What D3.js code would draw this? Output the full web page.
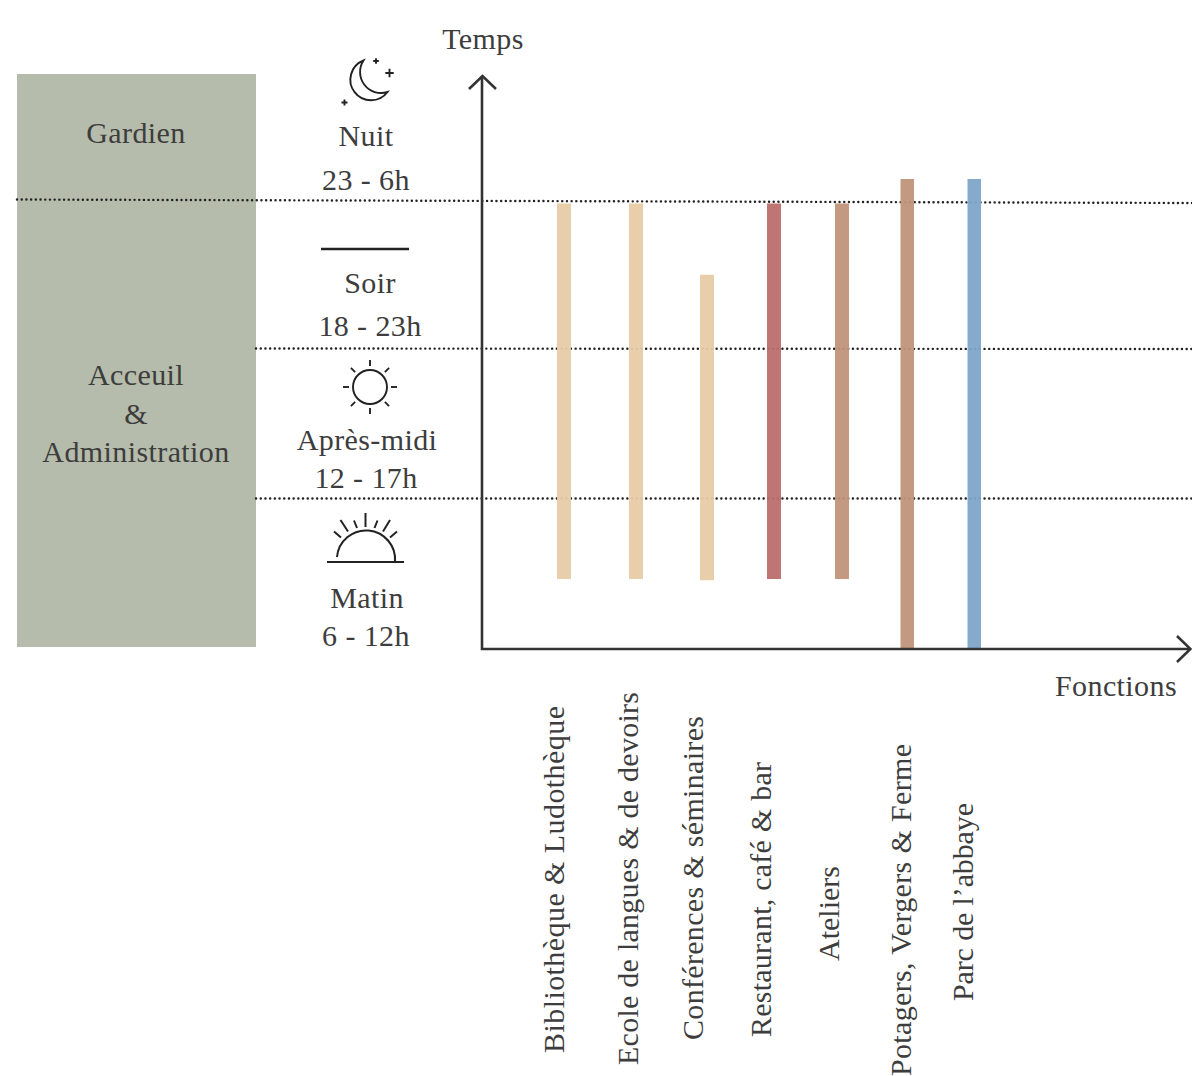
<!DOCTYPE html>
<html>
<head>
<meta charset="utf-8">
<script src="https://cdn.jsdelivr.net/npm/d3@7"></script>
<style>
  html, body { margin: 0; padding: 0; background: #fff; }
  text { font-family: "Liberation Serif", serif; fill: #3d3d3d; font-size: 30px; letter-spacing: 0.4px; }
  text.fn { letter-spacing: 0; }
</style>
</head>
<body>
<div id="chart-area"></div>
<script>
const functions = [
  "Bibliothèque & Ludothèque",
  "Ecole de langues & de devoirs",
  "Conférences & séminaires",
  "Restaurant, café & bar",
  "Ateliers",
  "Potagers, Vergers & Ferme",
  "Parc de l’abbaye"
];
// opening hours
const opens = [8.8, 8.8, 8.75, 8.8, 8.8, 6, 6];
const closes = [23, 23, 20.55, 23, 23, 24, 24];
const groups = ["beige", "beige", "beige", "red", "terracotta", "terracotta", "blue"];

const periods = ["Nuit", "23 - 6h", "Soir", "18 - 23h", "Après-midi", "12 - 17h", "Matin", "6 - 12h"];
const staff = ["Gardien", "Acceuil", "&", "Administration"];

const WIDTH = 1192;
const HEIGHT = 1076;
const INK = "#333";

const svg = d3.select("#chart-area").append("svg")
  .attr("width", WIDTH)
  .attr("height", HEIGHT)
  .style("display", "block");

// hand drawn time axis, so the hours are not evenly spaced
const y = d3.scaleLinear().domain([6, 12, 18, 23, 24]).range([649, 499, 349, 203.5, 179]);
const x = d3.scaleOrdinal().domain(functions).range([564, 636, 707, 774, 842, 907.5, 974.5]);
const colour = d3.scaleOrdinal()
  .domain(["beige", "red", "terracotta", "blue"])
  .range(["#e8cba6", "#bb6e6d", "#c1937a", "#80a5c8"]);

svg.append("rect")
  .attr("x", 17).attr("y", 74)
  .attr("width", 239).attr("height", 573)
  .attr("fill", "#b5bcab");

// dotted dividers
const dividers = [
  { x1: 17, y1: y(23) - 4, x2: WIDTH, y2: y(23) - 0.5 },
  { x1: 256, y1: y(18) - 0.5, x2: WIDTH, y2: y(18) },
  { x1: 256, y1: y(12) - 0.5, x2: WIDTH, y2: y(12) - 0.5 }
];
svg.selectAll(".divider").data(dividers).enter().append("line")
  .attr("class", "divider")
  .attr("x1", d => d.x1).attr("y1", d => d.y1)
  .attr("x2", d => d.x2).attr("y2", d => d.y2)
  .attr("stroke", "#222")
  .attr("stroke-width", 2.4)
  .attr("stroke-linecap", "round")
  .attr("stroke-dasharray", "0.1 4.6");

// bars
svg.selectAll(".bar").data(functions).enter().append("rect")
  .attr("class", "bar")
  .attr("x", d => x(d) - 7)
  .attr("y", (d, i) => y(closes[i]))
  .attr("width", (d, i) => (i > 4 ? 13.5 : 14))
  .attr("height", (d, i) => y(opens[i]) - y(closes[i]))
  .attr("fill", (d, i) => colour(groups[i]))
  .attr("fill-opacity", 0.95);

// axes with arrow heads
const axes = svg.append("g")
  .attr("fill", "none")
  .attr("stroke", INK)
  .attr("stroke-width", 2.6);
axes.append("path").attr("d", "M482 76V649H1190");
axes.append("path").attr("d", "M469 89L482.5 76L496 89");
axes.append("path").attr("d", "M1177 636L1190.5 649L1177 662");

// left column and period labels
const leftLabels = [
  { t: staff[0], x: 136, y: 143 },
  { t: staff[1], x: 136, y: 385 },
  { t: staff[2], x: 136, y: 424 },
  { t: staff[3], x: 136, y: 462 },
  { t: periods[0], x: 366, y: 145.5 },
  { t: periods[1], x: 366, y: 190 },
  { t: periods[2], x: 370, y: 292.5 },
  { t: periods[3], x: 370, y: 336 },
  { t: periods[4], x: 367, y: 450 },
  { t: periods[5], x: 366, y: 488 },
  { t: periods[6], x: 367, y: 608 },
  { t: periods[7], x: 366, y: 646 },
  { t: "Temps", x: 483, y: 49 },
  { t: "Fonctions", x: 1116, y: 696 }
];
svg.selectAll(".label").data(leftLabels).enter().append("text")
  .attr("class", "label")
  .attr("x", d => d.x).attr("y", d => d.y)
  .attr("text-anchor", "middle")
  .text(d => d.t);

// rotated function names, they are not lined up in the original
const labelStart = [1053, 1065, 1040, 1037, 961, 1076, 1001];
const labelShift = [0, 2, -4, -3, -3, 3.5, -1.5];
const labelLength = [347, 373, 324, 275, 95, 332, 198];
svg.selectAll(".fn").data(functions).enter().append("text")
  .attr("class", "fn")
  .attr("transform", (d, i) => `translate(${x(d) + labelShift[i]},${labelStart[i]}) rotate(-90)`)
  .attr("textLength", (d, i) => labelLength[i])
  .attr("lengthAdjust", "spacing")
  .text(d => d);

// icons
const icons = svg.append("g")
  .attr("fill", "none")
  .attr("stroke", "#222")
  .attr("stroke-width", 1.9);

// moon
icons.append("path").attr("d", "M363.5 60.5A20.6 20.6 0 1 0 387.5 92A21 21 0 0 1 363.5 60.5Z");
[[376, 61, 2.8], [389.5, 73, 4.2], [344.5, 102.5, 3]].forEach(([cx, cy, r]) => {
  icons.append("path").attr("d", `M${cx - r} ${cy}H${cx + r}M${cx} ${cy - r}V${cy + r}`);
});

// separator for the evening
icons.append("line")
  .attr("x1", 321).attr("x2", 409)
  .attr("y1", 249).attr("y2", 249)
  .attr("stroke-width", 2.4);

// sun
icons.append("circle").attr("cx", 370).attr("cy", 387).attr("r", 17);
d3.range(8).forEach(i => {
  const a = i * Math.PI / 4;
  icons.append("line")
    .attr("x1", 370 + 21 * Math.cos(a)).attr("y1", 387 + 21 * Math.sin(a))
    .attr("x2", 370 + 27 * Math.cos(a)).attr("y2", 387 + 27 * Math.sin(a));
});

// sunrise
icons.append("path").attr("d", "M337 557A29 29 0 0 1 395 562").attr("stroke-width", 2);
icons.append("line")
  .attr("x1", 327).attr("x2", 404)
  .attr("y1", 562).attr("y2", 562)
  .attr("stroke-width", 2.2);
[
  [334, 531.5, 341, 537.5],
  [340.5, 520, 348, 531.5],
  [354, 520.5, 357, 528],
  [365.5, 513, 365.5, 527],
  [377.5, 520.5, 374.5, 528],
  [390, 520, 383, 531.5],
  [397, 531.5, 390, 537.5]
].forEach(r => {
  icons.append("line")
    .attr("x1", r[0]).attr("y1", r[1])
    .attr("x2", r[2]).attr("y2", r[3])
    .attr("stroke-width", 2);
});
</script>
</body>
</html>
